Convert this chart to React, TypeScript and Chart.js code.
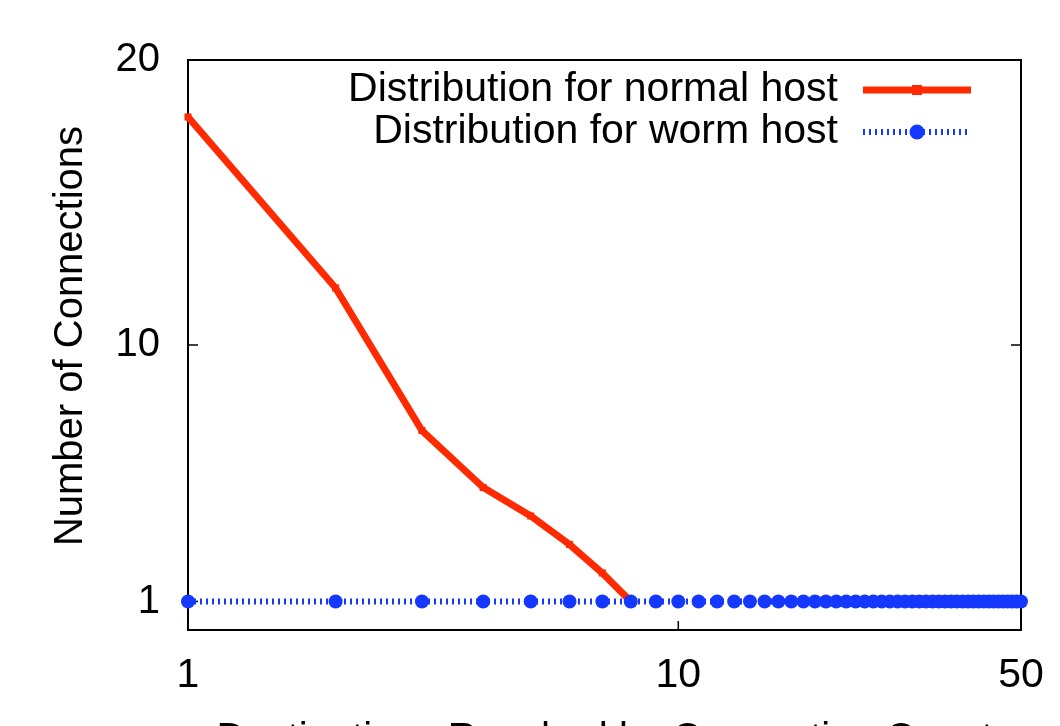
import React, { useEffect, useRef } from "react";
import { Chart, registerables } from "chart.js";

Chart.register(...registerables);

const normalX = [1, 2, 3, 4, 5, 6, 7, 8];
const normalY = [18, 12, 7, 5, 4, 3, 2, 1];

const wormX = [
  1, 2, 3, 4, 5, 6, 7, 8, 9, 10, 11, 12, 13, 14, 15, 16, 17, 18, 19, 20, 21, 22, 23, 24, 25,
  26, 27, 28, 29, 30, 31, 32, 33, 34, 35, 36, 37, 38, 39, 40, 41, 42, 43, 44, 45, 46, 47, 48, 49, 50,
];
const wormY = [
  1, 1, 1, 1, 1, 1, 1, 1, 1, 1, 1, 1, 1, 1, 1, 1, 1, 1, 1, 1, 1, 1, 1, 1, 1,
  1, 1, 1, 1, 1, 1, 1, 1, 1, 1, 1, 1, 1, 1, 1, 1, 1, 1, 1, 1, 1, 1, 1, 1, 1,
];

const xTicks = [1, 10, 50];
const yTicks = [1, 10, 20];

const normalLabel = "Distribution for normal host";
const wormLabel = "Distribution for worm host";
const xTitle = "Destinations Reached by Connection Count";
const yTitle = "Number of Connections";

const RED = "#ff2a00";
const BLUE = "#1438ff";
const FONT = "'Liberation Sans', Arial, Helvetica, sans-serif";

const W = 1060;
const H = 770;

const framePlugin = {
  id: "gnuFrame",
  beforeDatasetsDraw(chart: any) {
    const { ctx, chartArea, scales } = chart;
    const { left, right, top, bottom } = chartArea;
    ctx.save();
    ctx.strokeStyle = "#000";
    ctx.lineWidth = 1.5;
    xTicks.forEach((v) => {
      const px = scales.x.getPixelForValue(v);
      if (Math.abs(px - left) < 2 || Math.abs(px - right) < 2) return;
      ctx.beginPath();
      ctx.moveTo(px, bottom);
      ctx.lineTo(px, bottom - 9);
      ctx.stroke();
    });
    yTicks.forEach((v) => {
      const py = scales.y.getPixelForValue(v);
      if (Math.abs(py - top) < 2 || Math.abs(py - bottom) < 2) return;
      ctx.beginPath();
      ctx.moveTo(left, py);
      ctx.lineTo(left + 10, py);
      ctx.moveTo(right, py);
      ctx.lineTo(right - 10, py);
      ctx.stroke();
    });
    ctx.lineWidth = 2;
    ctx.strokeRect(left, top, right - left, bottom - top);
    ctx.restore();
  },
  afterDraw(chart: any) {
    const { ctx, chartArea } = chart;
    const { left, right, top, bottom } = chartArea;

    // y axis title
    ctx.save();
    ctx.fillStyle = "#000";
    ctx.font = `40px ${FONT}`;
    ctx.textAlign = "center";
    ctx.textBaseline = "alphabetic";
    ctx.translate(left - 106, (top + bottom) / 2 - 9);
    ctx.rotate(-Math.PI / 2);
    ctx.fillText(yTitle, 0, 0);
    ctx.restore();

    // legend
    const textX = right - 183;
    const lineX0 = right - 158;
    const lineX1 = right - 50;
    const midX = (lineX0 + lineX1) / 2;
    const y1 = top + 30;
    const y2 = top + 72;
    ctx.save();
    ctx.fillStyle = "#000";
    ctx.font = `41px ${FONT}`;
    ctx.textAlign = "right";
    ctx.textBaseline = "middle";
    ctx.fillText(normalLabel, textX, y1);
    ctx.fillText(wormLabel, textX, y2);

    ctx.strokeStyle = RED;
    ctx.lineWidth = 7;
    ctx.beginPath();
    ctx.moveTo(lineX0, y1);
    ctx.lineTo(lineX1, y1);
    ctx.stroke();
    ctx.fillStyle = RED;
    ctx.fillRect(midX - 5, y1 - 5, 10, 10);

    ctx.strokeStyle = BLUE;
    ctx.lineWidth = 6;
    ctx.setLineDash([2, 4]);
    ctx.beginPath();
    ctx.moveTo(lineX0, y2);
    ctx.lineTo(lineX1, y2);
    ctx.stroke();
    ctx.setLineDash([]);
    ctx.fillStyle = BLUE;
    ctx.beginPath();
    ctx.arc(midX, y2, 7.5, 0, Math.PI * 2);
    ctx.fill();
    ctx.restore();
  },
};

export default function App() {
  const ref = useRef<HTMLCanvasElement | null>(null);

  useEffect(() => {
    if (!ref.current) return;
    const chart = new Chart(ref.current, {
      type: "line",
      data: {
        datasets: [
          {
            label: wormLabel,
            data: wormX.map((x, i) => ({ x, y: wormY[i] })),
            borderColor: BLUE,
            backgroundColor: BLUE,
            borderWidth: 6,
            borderDash: [2, 4],
            pointStyle: "circle",
            pointRadius: 7,
            pointBorderWidth: 0,
            pointBackgroundColor: BLUE,
            tension: 0,
            clip: false,
            order: 0,
          },
          {
            label: normalLabel,
            data: normalX.map((x, i) => ({ x, y: normalY[i] })),
            borderColor: RED,
            backgroundColor: RED,
            borderWidth: 7,
            pointStyle: "rect",
            pointRadius: 5,
            pointBorderWidth: 0,
            pointBackgroundColor: RED,
            tension: 0,
            clip: false,
            order: 1,
          },
        ],
      },
      options: {
        responsive: false,
        animation: false,
        devicePixelRatio: 1,
        layout: { padding: { left: 0, top: 60, right: 39, bottom: 0 } },
        plugins: {
          legend: { display: false },
          tooltip: { enabled: false },
        },
        scales: {
          x: {
            type: "logarithmic",
            position: "bottom",
            min: 1,
            max: 50,
            grid: { display: false, drawTicks: false },
            border: { display: false },
            afterBuildTicks: (s: any) => {
              s.ticks = xTicks.map((v) => ({ value: v }));
            },
            afterFit: (s: any) => {
              s.height = H - 630;
              s.paddingLeft = 0;
              s.paddingRight = 0;
            },
            ticks: {
              autoSkip: false,
              maxRotation: 0,
              padding: 21,
              color: "#000",
              font: { family: FONT, size: 41 },
              callback: (v: any) => String(v),
            },
            title: {
              display: true,
              text: xTitle,
              color: "#000",
              font: { family: FONT, size: 40 },
              padding: { top: 0, bottom: 6 },
            },
          },
          y: {
            type: "linear",
            position: "left",
            min: 0,
            max: 20,
            grid: { display: false, drawTicks: false },
            border: { display: false },
            afterBuildTicks: (s: any) => {
              s.ticks = yTicks.map((v) => ({ value: v }));
            },
            afterFit: (s: any) => {
              s.width = 188;
              s.paddingTop = 0;
              s.paddingBottom = 0;
            },
            ticks: {
              autoSkip: false,
              padding: 28,
              color: "#000",
              font: { family: FONT, size: 40 },
              callback: (v: any) => String(v),
            },
            title: { display: false },
          },
        },
      },
      plugins: [framePlugin],
    });
    return () => chart.destroy();
  }, []);

  return (
    <div
      style={{
        position: "fixed",
        left: 0,
        top: 0,
        width: W,
        height: 726,
        overflow: "hidden",
        background: "#fff",
      }}
    >
      <canvas ref={ref} width={W} height={H} style={{ width: W, height: H, display: "block" }} />
    </div>
  );
}
